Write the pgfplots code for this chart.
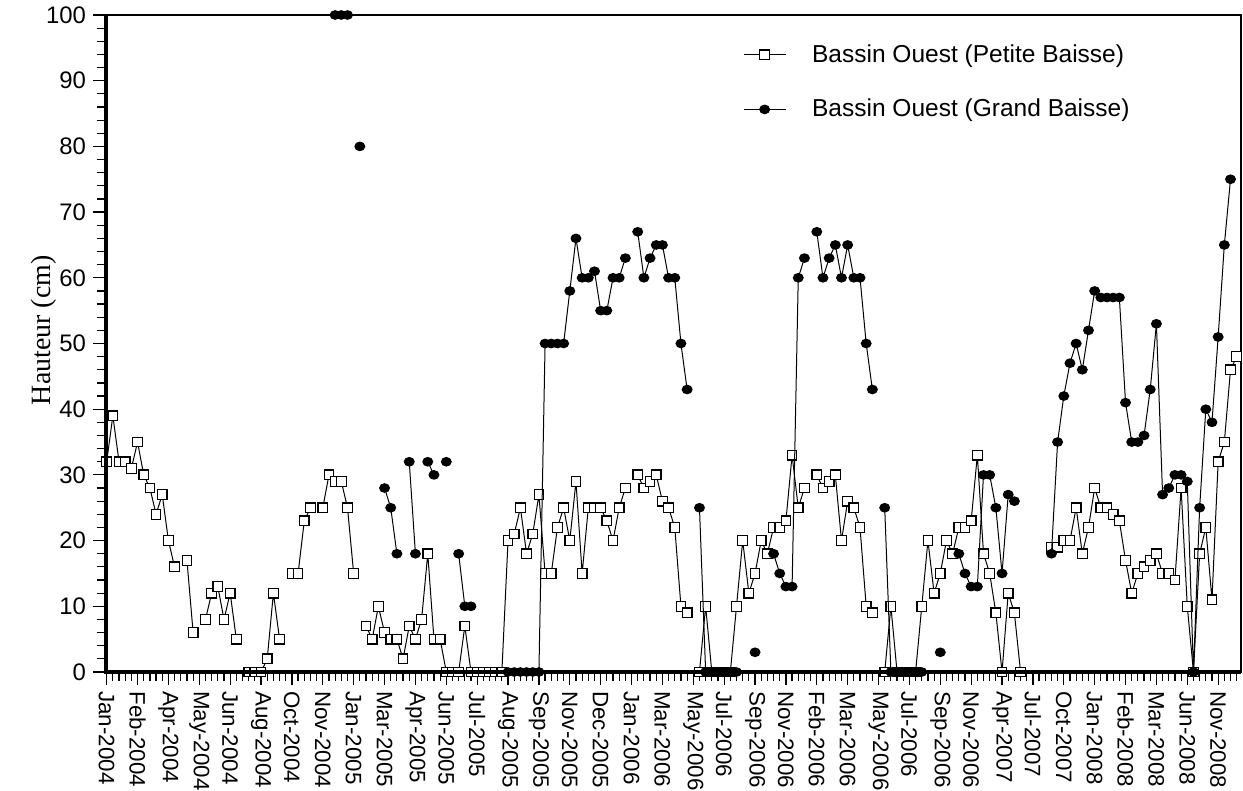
\documentclass[border=0pt]{standalone}
\usepackage{fontspec}
\setmainfont{Liberation Sans}
\newfontfamily\timesfont{Liberation Serif}
\usepackage{pgfplots}
\pgfplotsset{compat=1.18}
\usepackage{pgfplotstable}

% i = sample index, p = Petite Baisse, g = Grand Baisse (cm)
\pgfplotstableread{
i p g
0 32 nan
1 39 nan
2 32 nan
3 32 nan
4 31 nan
5 35 nan
6 30 nan
7 28 nan
8 24 nan
9 27 nan
10 20 nan
11 16 nan
12 nan nan
13 17 nan
14 6 nan
15 nan nan
16 8 nan
17 12 nan
18 13 nan
19 8 nan
20 12 nan
21 5 nan
22 nan nan
23 0 nan
24 0 nan
25 0 nan
26 2 nan
27 12 nan
28 5 nan
29 nan nan
30 15 nan
31 15 nan
32 23 nan
33 25 nan
34 nan nan
35 25 nan
36 30 nan
37 29 100
38 29 100
39 25 100
40 15 nan
41 nan 80
42 7 nan
43 5 nan
44 10 nan
45 6 28
46 5 25
47 5 18
48 2 nan
49 7 32
50 5 18
51 8 nan
52 18 32
53 5 30
54 5 nan
55 0 32
56 0 nan
57 0 18
58 7 10
59 0 10
60 0 nan
61 0 nan
62 0 nan
63 0 nan
64 0 nan
65 20 0
66 21 0
67 25 0
68 18 0
69 21 0
70 27 0
71 15 50
72 15 50
73 22 50
74 25 50
75 20 58
76 29 66
77 15 60
78 25 60
79 25 61
80 25 55
81 23 55
82 20 60
83 25 60
84 28 63
85 nan nan
86 30 67
87 28 60
88 29 63
89 30 65
90 26 65
91 25 60
92 22 60
93 10 50
94 9 43
95 nan nan
96 0 25
97 10 0
98 0 0
99 0 0
100 0 0
101 0 0
102 10 0
103 20 nan
104 12 nan
105 15 3
106 20 nan
107 18 nan
108 22 18
109 22 15
110 23 13
111 33 13
112 25 60
113 28 63
114 nan nan
115 30 67
116 28 60
117 29 63
118 30 65
119 20 60
120 26 65
121 25 60
122 22 60
123 10 50
124 9 43
125 nan nan
126 0 25
127 10 0
128 0 0
129 0 0
130 0 0
131 0 0
132 10 0
133 20 nan
134 12 nan
135 15 3
136 20 nan
137 18 nan
138 22 18
139 22 15
140 23 13
141 33 13
142 18 30
143 15 30
144 9 25
145 0 15
146 12 27
147 9 26
148 0 nan
149 nan nan
150 nan nan
151 nan nan
152 nan nan
153 19 18
154 19 35
155 20 42
156 20 47
157 25 50
158 18 46
159 22 52
160 28 58
161 25 57
162 25 57
163 24 57
164 23 57
165 17 41
166 12 35
167 15 35
168 16 36
169 17 43
170 18 53
171 15 27
172 15 28
173 14 30
174 28 30
175 10 29
176 0 0
177 18 25
178 22 40
179 11 38
180 32 51
181 35 65
182 46 75
183 48 nan
}\bassin

\begin{document}
\begin{tikzpicture}
\begin{axis}[
    scale only axis,
    width=567.5bp, height=328.5bp,
    xmin=-0.11, xmax=183.7,
    ymin=0, ymax=100,
    clip mode=individual,
    unbounded coords=jump,
    axis line style={line width=0.7bp},
    tick pos=left, tick align=outside,
    major tick length=6.5bp, minor tick length=4.5bp,
    every tick/.style={black, line width=0.6bp},
    xtick={0,5,...,180},
    minor xtick={0,1,...,183},
    xticklabels={Jan-2004,Feb-2004,Apr-2004,May-2004,Jun-2004,Aug-2004,Oct-2004,Nov-2004,
        Jan-2005,Mar-2005,Apr-2005,Jun-2005,Jul-2005,Aug-2005,Sep-2005,Nov-2005,Dec-2005,
        Jan-2006,Mar-2006,May-2006,Jul-2006,Sep-2006,Nov-2006,Feb-2006,Mar-2006,May-2006,
        Jul-2006,Sep-2006,Nov-2006,Apr-2007,Jul-2007,Oct-2007,Jan-2008,Feb-2008,Mar-2008,
        Jun-2008,Nov-2008},
    xticklabel style={rotate=-90, anchor=west, inner sep=3bp, font=\fontsize{11.2}{13}\selectfont},
    ytick={0,10,...,100},
    minor ytick={0,2,...,100},
    yticklabel style={font=\fontsize{12}{14}\selectfont},
    /pgf/number format/assume math mode=true,
    ylabel={\timesfont Hauteur (cm)},
    ylabel style={at={(axis description cs:-0.055,0.52)}, anchor=center,
        font=\fontsize{14}{16}\selectfont},
    legend style={at={(axis description cs:0.561,0.962)}, anchor=north west,
        draw=none, fill=none, inner sep=0pt, row sep=13bp,
        font=\fontsize{12.3}{14}\selectfont,
        /tikz/every odd column/.append style={column sep=11bp}},
    legend cell align=left,
    legend image code/.code={\draw[mark repeat=2, mark phase=2, #1]
        plot coordinates {(0bp,0bp) (10.5bp,0bp) (21bp,0bp)};},
]
\addplot[black, line width=0.5bp, mark=square*, mark size=2.4bp,
    mark options={fill=white, line width=0.6bp}]
    table[x=i, y=p] {\bassin};
\addplot[black, line width=0.5bp, mark=*, mark size=2.15bp,
    mark options={fill=black, xscale=1.15}]
    table[x=i, y=g] {\bassin};
\legend{Bassin Ouest (Petite Baisse), Bassin Ouest (Grand Baisse)}
\draw[line width=1.6bp] (rel axis cs:0,1) -- (rel axis cs:0,0) -- (rel axis cs:1,0);
\end{axis}
\pgfresetboundingbox
\path[use as bounding box] (-53bp,-59.5bp) rectangle (568.5bp,336bp);
\end{tikzpicture}
\end{document}
